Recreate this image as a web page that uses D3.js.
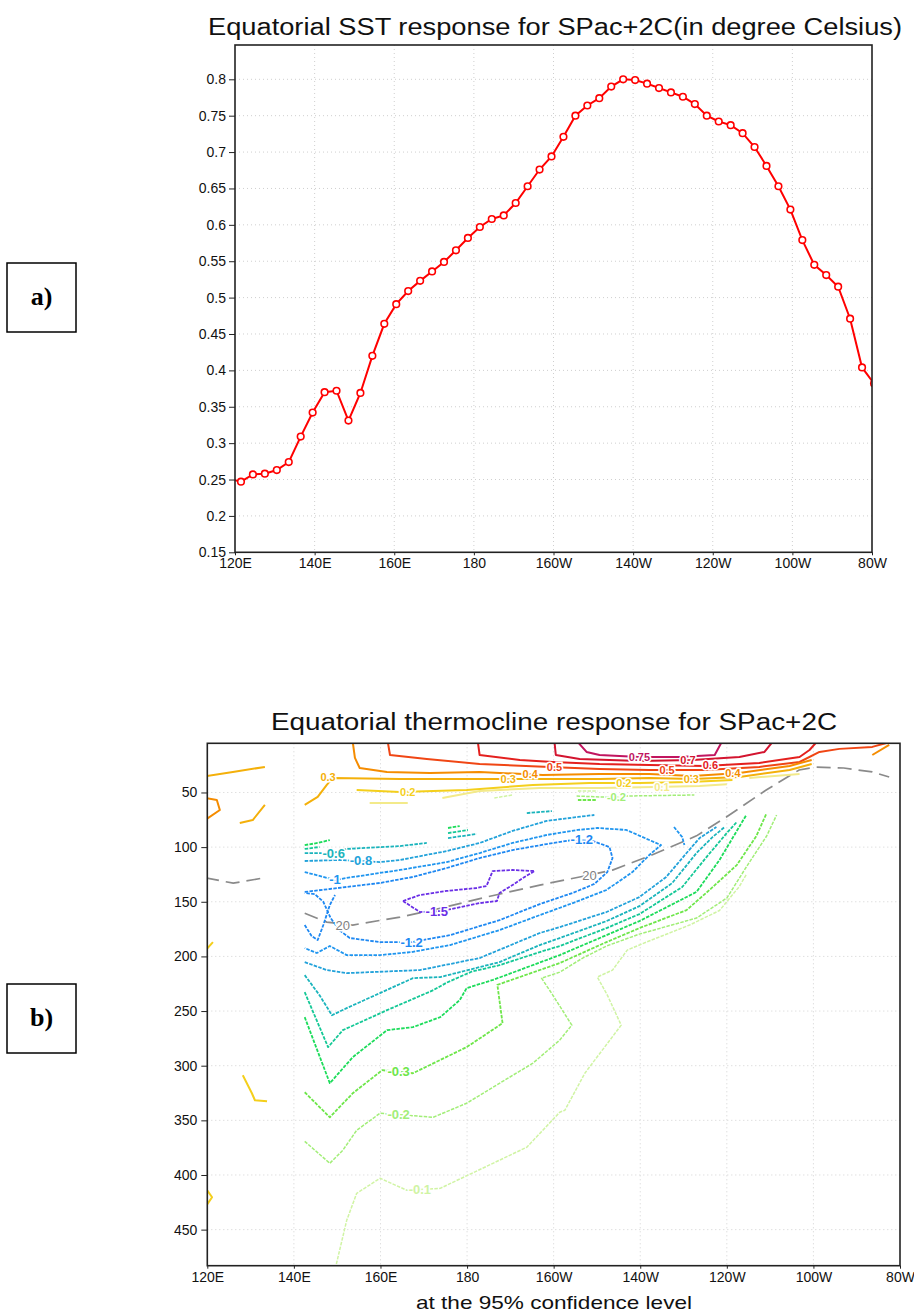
<!DOCTYPE html>
<html>
<head>
<meta charset="utf-8">
<script src="https://cdn.jsdelivr.net/npm/d3@7"></script>
<style>
body { margin: 0; background: #fff; }
svg { display: block; }
text { font-family: "Liberation Sans", Arial, sans-serif; }
</style>
</head>
<body>
<svg id="fig" width="914" height="1315"></svg>
<script>
// ---------- data: panel a (SST along the equator) ----------
var sstLon = [118.5, 121.5, 124.5, 127.5, 130.5, 133.5, 136.5, 139.5, 142.5, 145.5, 148.5, 151.5, 154.5,
  157.5, 160.5, 163.5, 166.5, 169.5, 172.5, 175.5, 178.5, 181.5, 184.5, 187.5, 190.5, 193.5, 196.5,
  199.5, 202.5, 205.5, 208.5, 211.5, 214.5, 217.5, 220.5, 223.5, 226.5, 229.5, 232.5, 235.5, 238.5,
  241.5, 244.5, 247.5, 250.5, 253.5, 256.5, 259.5, 262.5, 265.5, 268.5, 271.5, 274.5, 277.5, 280.5];
var sstValue = [0.251, 0.247, 0.257, 0.258, 0.263, 0.274, 0.309, 0.342, 0.370, 0.372, 0.331, 0.369, 0.420,
  0.464, 0.491, 0.509, 0.523, 0.536, 0.549, 0.565, 0.582, 0.597, 0.608, 0.613, 0.630, 0.653, 0.676,
  0.694, 0.721, 0.750, 0.764, 0.774, 0.790, 0.800, 0.799, 0.794, 0.788, 0.782, 0.776, 0.766, 0.750,
  0.742, 0.737, 0.726, 0.707, 0.681, 0.653, 0.621, 0.579, 0.545, 0.531, 0.515, 0.471, 0.404, 0.382];
var sstTicks = [0.15, 0.2, 0.25, 0.3, 0.35, 0.4, 0.45, 0.5, 0.55, 0.6, 0.65, 0.7, 0.75, 0.8];
var sstTickLabels = ["0.15", "0.2", "0.25", "0.3", "0.35", "0.4", "0.45", "0.5", "0.55", "0.6", "0.65", "0.7", "0.75", "0.8"];

// shared longitude axis
var lonTicks = [120, 140, 160, 180, 200, 220, 240, 260, 280];
var lonTickLabels = ["120E", "140E", "160E", "180", "160W", "140W", "120W", "100W", "80W"];

// ---------- data: panel b (thermocline response, lon / depth in m) ----------
var depthTicks = [50, 100, 150, 200, 250, 300, 350, 400, 450];

var contourLines = [
  {lev: 0.75, pts: [[205.6,4],[207.6,12.9],[210.6,15.7],[219.8,17.5],[229,17.5],[237.2,15.7],[238.8,4]]},
  {lev: 0.7, pts: [[200.2,4],[200.5,15.7],[206,19.3],[219.8,21.2],[232.1,20.2],[242.9,17.5],[248.7,12.9],[250.5,4]]},
  {lev: 0.6, pts: [[182.5,4],[182.9,15.7],[192.2,20.2],[199.8,22.1],[210.6,23.9],[222.1,24.8],[234.9,25.7],[247.5,23],[256.8,17.5],[259.1,11.1],[260.7,4]]},
  {lev: 0.5, pts: [[161.7,4],[162.2,15.7],[170.7,19.3],[182.9,23.9],[199.1,26.6],[210.6,28.5],[222.1,29.4],[234.9,29.4],[247.5,26.6],[256.8,22.1],[261.4,12.9],[266,10.1],[273.6,8.3],[277.5,4]]},
  {lev: 0.4, pts: [[153.6,4],[154.1,18.4],[155.2,27.6],[161.5,31.2],[171.4,32.1],[182.9,31.2],[197.5,34],[210.6,33.1],[222.1,33.1],[232.1,34.9],[242.9,32.1],[254.5,25.7],[259.6,20.2]]},
  {lev: 0.4, pts: [[273.6,15.7],[277.5,6.5]]},
  {lev: 0.4, pts: [[119.5,55],[122.2,56.9],[122.9,66],[119.5,75.2]]},
  {lev: 0.3, pts: [[142.5,61.4],[145.5,54.1],[147.6,43.1],[149,36.7],[164.5,37.6],[179.9,37.6],[197.5,37.6],[210.6,37.6],[222.1,36.7],[232.1,37.6],[242.9,35.8],[254.5,29.4],[259.6,23.9]]},
  {lev: 0.3, pts: [[119,35.5],[125.9,31.2],[133.3,26.6]]},
  {lev: 0.3, pts: [[127.5,77.9],[130.5,75.2],[133.3,61.4]]},
  {lev: 0.2, pts: [[154.5,47.7],[164.5,49.5],[179.9,47.7],[195.2,43.1],[208.3,41.3],[219.8,41.3],[231.4,40.4],[241.3,38.6]]},
  {lev: 0.2, pts: [[128.2,308.7],[130.3,325.2],[131,331.6],[133.8,332.5]]},
  {lev: 0.2, pts: [[119.5,195],[121.3,186.9]]},
  {lev: 0.2, pts: [[119.5,411.3],[121.1,420.4],[119.5,429.6]]},
  {lev: 0.1, pts: [[157.5,59.6],[166.3,59.6]]},
  {lev: 0.1, pts: [[174.3,55],[182.9,48.6],[196.8,45.9],[210.6,45.9],[223.3,45],[233.7,44],[240,42.5]]},
  {lev: 0.1, pts: [[245.2,36.7],[256.8,33.1]]},
  {lev: -0.1, pts: [[186.3,55],[190.5,52.3]]},
  {lev: -0.1, pts: [[205.6,48.6],[210.1,48.6]]},
  {lev: -0.2, pts: [[205.3,53.2],[210.6,54.1],[214.5,54.1],[217.5,53.2],[232.5,52.3]]},
  {lev: -0.3, pts: [[205.6,56.9],[209.9,56.9]]},
  {lev: -0.4, pts: [[142.5,98.1],[145.5,96.2],[148.3,93.5]]},
  {lev: -0.4, pts: [[175.6,82.5],[178.3,80.7]]},
  {lev: -0.5, pts: [[142.5,101.7],[145.9,99.9]]},
  {lev: -0.5, pts: [[175.6,87.1],[180.2,84.3]]},
  {lev: -0.6, pts: [[142.5,105.4],[149,105.4],[152.2,101.7],[164.5,99],[170.7,96.2]]},
  {lev: -0.6, pts: [[175.6,91.7],[182.2,88]]},
  {lev: -0.6, pts: [[193.8,68.8],[199.6,67]]},
  {lev: -0.8, pts: [[142.5,112.7],[150.5,111.8],[159.9,113.7],[164.5,111.8],[175.3,103.6],[182.9,96.2],[190.5,85.2],[198.4,76],[205.6,72.4],[209.4,70.6]]},
  {lev: -1, pts: [[142.5,122.8],[149.5,130.1],[152.2,128.2],[164.5,120.9],[175.3,113.7],[182.9,105.4],[190.5,96.2],[198.4,88.9],[205.6,84.3],[210.1,82.5],[216.8,84.3],[222.1,93.5],[224.8,98.1],[222.1,107.2],[218.2,122.8],[212.2,139.2],[204.4,151.2],[196.8,162.2],[187.5,175.9],[176.1,189.6],[167.2,196],[159.9,198.8],[152.2,198.8],[148.3,190.5],[145.3,196.9],[142.5,192.4]]},
  {lev: -1, pts: [[227.8,81.6],[229.7,90.8],[230.2,98.1]]},
  {lev: -1.2, pts: [[142.5,141],[148.3,138.3],[159.9,132.8],[167.5,127.3],[175.3,119.1],[182.9,110],[190.5,102.7],[198.4,97.2],[204.4,93.5],[209,94.4],[212.9,99.9],[213.6,110],[212.4,122.8],[209.4,133.7],[204.4,141.9],[196.8,152.1],[187.5,166.8],[176.1,180.5],[167.2,186.9],[159.9,186.9],[152.9,183.2],[150.5,176],[148.5,165],[146.8,150],[144.8,143],[142.5,141.9]]},
  {lev: -1.2, pts: [[142.5,171.3],[144.1,181.4],[145.5,185],[146.8,171.3],[148.3,153],[149.5,143.8]]},
  {lev: -1.5, pts: [[165.2,149.3],[169.1,143.8],[175.3,140.1],[182.2,137.4],[184.5,135.6],[185.9,121.9],[190.5,120.9],[195.6,121.9],[192.9,128.2],[190.5,134.7],[187.5,141.9],[186.9,149.3],[182.9,151.2],[177.6,155.7],[173.8,158.5],[169.1,159.4],[165.2,149.3]]},
  {lev: -0.8, pts: [[142.5,205.2],[147.6,212.5],[152.2,215.3],[169.1,212.5],[182.9,201.5],[196.8,178.6],[201.4,173.2],[212.2,159.4],[219.8,145.7],[226,127.3],[230.7,105.4],[233.7,91.7],[237.6,81.6]]},
  {lev: -0.6, pts: [[142.5,217.1],[145.9,235.4],[148.8,253.8],[152.2,247.3],[167.5,219.9],[173.8,218.9],[187.5,205.2],[196.8,189.6],[201.4,183.2],[212.2,167.7],[219.8,154],[227.4,132.8],[233,105.4],[236.7,90.8],[239.5,81.6]]},
  {lev: -0.5, pts: [[142.5,232.7],[147.9,283],[151.3,267.5],[161.5,249.2],[172.2,230.9],[175.3,224],[181,214],[187.5,208],[196.8,196],[201.4,190.5],[212.2,174.1],[219.8,161.3],[229.7,136.5],[235.3,109.1],[240,87.1],[242.3,77]]},
  {lev: -0.4, pts: [[142.5,255.6],[148.3,316],[153.6,292.2],[161.5,267.5],[167.5,264.7],[173.8,255.6],[178.3,240],[179.9,229],[186,221.5],[201.4,198.8],[212.2,180.5],[219.8,167.7],[233,141],[238.3,111.8],[244.5,70.6]]},
  {lev: -0.3, pts: [[142.5,324.3],[148.3,347.2],[153.6,325.2],[160.4,304.1],[167.5,306.9],[179.9,283],[188.2,261.1],[187,226],[201.4,206.1],[212.2,186.9],[219.8,174.1],[230.7,157.6],[236,139.2],[242.3,116.4],[246.8,90],[249.2,68.8]]},
  {lev: -0.2, pts: [[142.5,369.2],[148.3,389.3],[151.3,377.4],[154.5,359.1],[159.9,343.5],[172.2,347.2],[179.9,334.3],[195.2,297.7],[201.4,276.6],[204.2,262.9],[199.8,235.4],[197.2,219.9],[201.4,214.4],[206.7,201.5],[212.2,190.5],[219.8,179.6],[233,164.9],[240,146.6],[244.5,118.2],[249.2,89.8],[251.5,70.6]]},
  {lev: -0.1, pts: [[149.3,490],[152.2,441.5],[154.5,416.8],[159.9,403],[166.1,414],[173.8,412.2],[193.8,374.6],[201.4,342.6],[202.6,340.7],[207.2,306.9],[215.6,262.9],[212.4,235.4],[210.1,218.9],[213.6,212.5],[217,194.2],[221.4,186.9],[231.4,171.3],[238.3,158],[242.9,136],[244.5,125]]}
];

// 20 degC isotherm (grey dashed)
var isotherm20 = [
  [[142.5,160.5],[147.6,168.6],[153.6,171.3],[164.5,164],[172.1,157.5],[184.6,145.6],[196.8,134.7],[208.3,125.5],[213.6,121],[222.2,108],[233,89.7],[239.9,72.4],[249.1,47.7],[256.7,29.4],[260.6,26.7],[267,27.6],[273.6,31.2],[277.5,35.8]],
  [[119.5,128],[126,133],[133.3,128]]
];

var contourLabels = [
  {t: "0.3", lev: 0.3, lon: 147.9, dep: 36},
  {t: "0.2", lev: 0.2, lon: 166.3, dep: 50},
  {t: "0.3", lev: 0.3, lon: 189.5, dep: 37.6},
  {t: "0.4", lev: 0.4, lon: 194.6, dep: 33.3},
  {t: "0.5", lev: 0.5, lon: 200.2, dep: 26.8},
  {t: "0.75", lev: 0.75, lon: 219.8, dep: 17.5},
  {t: "0.7", lev: 0.7, lon: 231, dep: 20.4},
  {t: "0.6", lev: 0.6, lon: 236.2, dep: 25.4},
  {t: "0.5", lev: 0.5, lon: 226.2, dep: 29.4},
  {t: "0.4", lev: 0.4, lon: 241.4, dep: 32.5},
  {t: "0.3", lev: 0.3, lon: 231.8, dep: 37.5},
  {t: "0.2", lev: 0.2, lon: 216.2, dep: 41.3},
  {t: "0.1", lev: 0.1, lon: 225, dep: 44.8},
  {t: "-0.2", lev: -0.2, lon: 214.5, dep: 54},
  {t: "-0.6", lev: -0.6, lon: 149.2, dep: 105.4},
  {t: "-0.8", lev: -0.8, lon: 155.5, dep: 112.5},
  {t: "-1", lev: -1, lon: 149.5, dep: 130},
  {t: "-1.2", lev: -1.2, lon: 206.5, dep: 93.3},
  {t: "-1.5", lev: -1.5, lon: 173, dep: 159},
  {t: "-1.2", lev: -1.2, lon: 167.2, dep: 187.5},
  {t: "-0.3", lev: -0.3, lon: 164.2, dep: 305},
  {t: "-0.2", lev: -0.2, lon: 164.2, dep: 345},
  {t: "-0.1", lev: -0.1, lon: 169.1, dep: 413}
];
var isoLabels = [
  {t: "20", lon: 151.3, dep: 171.5},
  {t: "20", lon: 208.3, dep: 125.5}
];

// ---------- styles ----------
var levelColor = d3.scaleOrdinal()
  .domain([-1.5, -1.2, -1, -0.8, -0.6, -0.5, -0.4, -0.3, -0.2, -0.1, 0.1, 0.2, 0.3, 0.4, 0.5, 0.6, 0.7, 0.75])
  .range(["#6a2ee6", "#1e88f2", "#1f95ef", "#22a2da", "#1ab4bc", "#14c896", "#1cdc5a", "#6ee64a", "#a2ee78", "#d0f4a4",
          "#f3ea8a", "#f4cf1c", "#f4b00a", "#f58c00", "#f04614", "#e4201e", "#d3142f", "#c1155f"]);

function lonLabel(d, i) { return lonTickLabels[i]; }

var svg = d3.select("#fig");

// =============== panel a ===============
var boxA = {left: 235, right: 872, top: 45, bottom: 552.3};
var xA = d3.scaleLinear().domain([120, 280]).range([boxA.left, boxA.right]);
var yA = d3.scaleLinear().domain([0.15, 0.8]).range([552.3, 79.3]);

var gA = svg.append("g").attr("class", "panel-a");

gA.append("text")
    .attr("x", 208).attr("y", 35)
    .attr("textLength", 694).attr("lengthAdjust", "spacingAndGlyphs")
    .style("font-size", "23px").style("fill", "#111")
    .text("Equatorial SST response for SPac+2C(in degree Celsius)");

// grid
gA.append("g").selectAll("line").data(lonTicks.slice(1, -1)).enter().append("line")
    .attr("x1", function(d) { return xA(d); }).attr("x2", function(d) { return xA(d); })
    .attr("y1", boxA.top).attr("y2", boxA.bottom)
    .style("stroke", "#cfcfcf").style("stroke-dasharray", "1,3");
gA.append("g").selectAll("line").data(sstTicks.slice(1)).enter().append("line")
    .attr("x1", boxA.left).attr("x2", boxA.right)
    .attr("y1", function(d) { return yA(d); }).attr("y2", function(d) { return yA(d); })
    .style("stroke", "#cfcfcf").style("stroke-dasharray", "1,3");

// axes
var yAxisA = d3.axisLeft(yA).tickValues(sstTicks).tickSize(6).tickPadding(3)
    .tickFormat(function(d, i) { return sstTickLabels[i]; });
var xAxisA = d3.axisBottom(xA).tickValues(lonTicks).tickSize(3).tickPadding(3).tickFormat(lonLabel);
gA.append("g").attr("transform", "translate(" + boxA.left + ",0)").call(yAxisA);
gA.append("g").attr("transform", "translate(0," + boxA.bottom + ")").call(xAxisA);

gA.append("clipPath").attr("id", "clipA").append("rect")
    .attr("x", boxA.left).attr("y", boxA.top)
    .attr("width", boxA.right - boxA.left).attr("height", boxA.bottom - boxA.top);

var sstData = sstLon.map(function(d, i) { return {lon: d, v: sstValue[i]}; });
var lineA = d3.line().x(function(d) { return xA(d.lon); }).y(function(d) { return yA(d.v); });
var body = gA.append("g").attr("clip-path", "url(#clipA)");
body.append("path").datum(sstData).attr("d", lineA)
    .style("fill", "none").style("stroke", "#ff0000").style("stroke-width", 2);
body.selectAll("circle").data(sstData).enter().append("circle")
    .attr("cx", function(d) { return xA(d.lon); })
    .attr("cy", function(d) { return yA(d.v); })
    .attr("r", 3.3)
    .style("fill", "#fff").style("stroke", "#ff0000").style("stroke-width", 1.6);

gA.append("rect")
    .attr("x", boxA.left).attr("y", boxA.top)
    .attr("width", boxA.right - boxA.left).attr("height", boxA.bottom - boxA.top)
    .style("fill", "none").style("stroke", "#222").style("stroke-width", 1.6);

// =============== panel b ===============
var boxB = {left: 207.3, right: 900, top: 743.3, bottom: 1265.7};
var xB = d3.scaleLinear().domain([120, 280]).range([boxB.left, boxB.right]);
var yB = d3.scaleLinear().domain([5, 483]).range([boxB.top, boxB.bottom]);

var gB = svg.append("g").attr("class", "panel-b");

gB.append("text")
    .attr("x", 271).attr("y", 730)
    .attr("textLength", 566).attr("lengthAdjust", "spacingAndGlyphs")
    .style("font-size", "23px").style("fill", "#111")
    .text("Equatorial thermocline response for SPac+2C");

gB.append("text")
    .attr("x", 416).attr("y", 1309)
    .attr("textLength", 276).attr("lengthAdjust", "spacingAndGlyphs")
    .style("font-size", "19px").style("fill", "#111")
    .text("at the 95% confidence level");

gB.append("g").selectAll("line").data(lonTicks.slice(1, -1)).enter().append("line")
    .attr("x1", function(d) { return xB(d); }).attr("x2", function(d) { return xB(d); })
    .attr("y1", boxB.top).attr("y2", boxB.bottom)
    .style("stroke", "#d2d2d2").style("stroke-dasharray", "1,3");
gB.append("g").selectAll("line").data(depthTicks).enter().append("line")
    .attr("x1", boxB.left).attr("x2", boxB.right)
    .attr("y1", function(d) { return yB(d); }).attr("y2", function(d) { return yB(d); })
    .style("stroke", "#d2d2d2").style("stroke-dasharray", "1,3");

var yAxisB = d3.axisLeft(yB).tickValues(depthTicks).tickSize(6).tickPadding(4);
var xAxisB = d3.axisBottom(xB).tickValues(lonTicks).tickSize(3).tickPadding(3).tickFormat(lonLabel);
gB.append("g").attr("transform", "translate(" + boxB.left + ",0)").call(yAxisB);
gB.append("g").attr("transform", "translate(0," + boxB.bottom + ")").call(xAxisB);

gB.append("clipPath").attr("id", "clipB").append("rect")
    .attr("x", boxB.left).attr("y", boxB.top)
    .attr("width", boxB.right - boxB.left).attr("height", boxB.bottom - boxB.top);

var lineB = d3.line().x(function(d) { return xB(d[0]); }).y(function(d) { return yB(d[1]); });
var cbody = gB.append("g").attr("clip-path", "url(#clipB)");

cbody.selectAll("path.iso").data(isotherm20).enter().append("path")
    .attr("class", "iso").attr("d", lineB)
    .style("fill", "none").style("stroke", "#8a8a8a").style("stroke-width", 1.7)
    .style("stroke-dasharray", "14,7");

cbody.selectAll("path.cnt").data(contourLines).enter().append("path")
    .attr("class", "cnt")
    .attr("d", function(d) { return lineB(d.pts); })
    .style("fill", "none")
    .style("stroke", function(d) { return levelColor(d.lev); })
    .style("stroke-width", function(d) { return d.lev > 0 ? 2 : (d.lev > -0.25 ? 1.5 : 1.8); })
    .style("stroke-dasharray", function(d) { return d.lev < 0 ? "3.5,1.3" : null; })
    .style("stroke-linejoin", "round");

// labels in the crowded near-surface band are kept a bit smaller
cbody.selectAll("text.clab").data(contourLabels).enter().append("text")
    .attr("class", "clab")
    .attr("x", function(d) { return xB(d.lon); })
    .attr("y", function(d) { return yB(d.dep); })
    .attr("dy", "0.35em").attr("text-anchor", "middle")
    .style("font-size", function(d) { return d.dep < 60 ? "11px" : "13px"; })
    .style("font-weight", "bold")
    .style("fill", function(d) { return levelColor(d.lev); })
    .style("stroke", "#fff").style("stroke-width", 3).style("paint-order", "stroke")
    .text(function(d) { return d.t; });

cbody.selectAll("text.ilab").data(isoLabels).enter().append("text")
    .attr("class", "ilab")
    .attr("x", function(d) { return xB(d.lon); })
    .attr("y", function(d) { return yB(d.dep); })
    .attr("dy", "0.35em").attr("text-anchor", "middle")
    .style("font-size", "13px")
    .style("fill", "#808080")
    .style("stroke", "#fff").style("stroke-width", 3).style("paint-order", "stroke")
    .text(function(d) { return d.t; });

gB.append("rect")
    .attr("x", boxB.left).attr("y", boxB.top)
    .attr("width", boxB.right - boxB.left).attr("height", boxB.bottom - boxB.top)
    .style("fill", "none").style("stroke", "#222").style("stroke-width", 1.6);

// axis text style
svg.selectAll(".tick text").style("font-size", "14px").style("fill", "#111");
svg.selectAll(".tick line").style("stroke", "#222");
svg.selectAll(".domain").remove();

// =============== panel tags ===============
var tags = [{t: "a)", y: 263}, {t: "b)", y: 984}];
var tg = svg.selectAll("g.tag").data(tags).enter().append("g").attr("class", "tag");
tg.append("rect").attr("x", 7).attr("y", function(d) { return d.y; })
    .attr("width", 69).attr("height", 69)
    .style("fill", "none").style("stroke", "#000").style("stroke-width", 1.5);
tg.append("text").attr("x", 41.5).attr("y", function(d) { return d.y + 42; })
    .attr("text-anchor", "middle")
    .style("font-family", "'Liberation Serif', 'Times New Roman', serif")
    .style("font-weight", "bold").style("font-size", "26px")
    .text(function(d) { return d.t; });
</script>
</body>
</html>
